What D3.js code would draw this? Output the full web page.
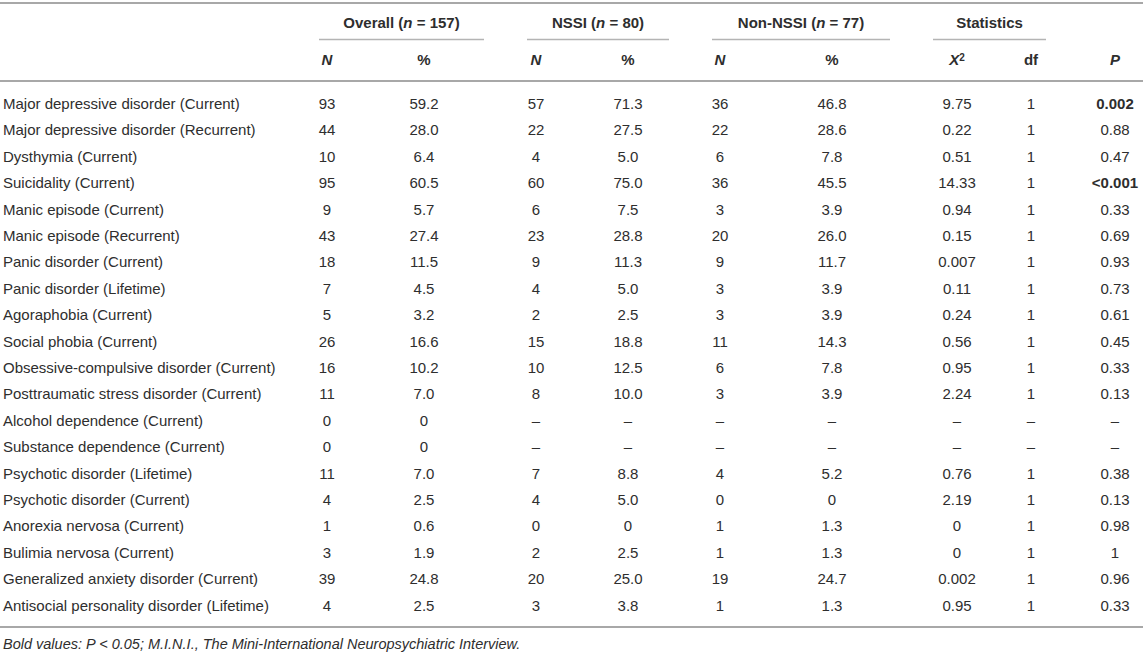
<!DOCTYPE html>
<html>
<head>
<meta charset="utf-8">
<script src="https://cdn.jsdelivr.net/npm/d3@7"></script>
<style>
body { margin: 0; background: #fff; }
text { font-family: "Liberation Sans", Arial, sans-serif; fill: #2e2e2e; }
</style>
</head>
<body>
<div id="table_chart"></div>
<script>
//Size
var w = 1143;
var h = 654;

//Row labels
var disorders = [
"Major depressive disorder (Current)",
"Major depressive disorder (Recurrent)",
"Dysthymia (Current)",
"Suicidality (Current)",
"Manic episode (Current)",
"Manic episode (Recurrent)",
"Panic disorder (Current)",
"Panic disorder (Lifetime)",
"Agoraphobia (Current)",
"Social phobia (Current)",
"Obsessive-compulsive disorder (Current)",
"Posttraumatic stress disorder (Current)",
"Alcohol dependence (Current)",
"Substance dependence (Current)",
"Psychotic disorder (Lifetime)",
"Psychotic disorder (Current)",
"Anorexia nervosa (Current)",
"Bulimia nervosa (Current)",
"Generalized anxiety disorder (Current)",
"Antisocial personality disorder (Lifetime)"
];

//Values, as printed
var overallN   = ["93","44","10","95","9","43","18","7","5","26","16","11","0","0","11","4","1","3","39","4"];
var overallPct = ["59.2","28.0","6.4","60.5","5.7","27.4","11.5","4.5","3.2","16.6","10.2","7.0","0","0","7.0","2.5","0.6","1.9","24.8","2.5"];
var nssiN      = ["57","22","4","60","6","23","9","4","2","15","10","8","–","–","7","4","0","2","20","3"];
var nssiPct    = ["71.3","27.5","5.0","75.0","7.5","28.8","11.3","5.0","2.5","18.8","12.5","10.0","–","–","8.8","5.0","0","2.5","25.0","3.8"];
var nonN       = ["36","22","6","36","3","20","9","3","3","11","6","3","–","–","4","0","1","1","19","1"];
var nonPct     = ["46.8","28.6","7.8","45.5","3.9","26.0","11.7","3.9","3.9","14.3","7.8","3.9","–","–","5.2","0","1.3","1.3","24.7","1.3"];
var chiSq      = ["9.75","0.22","0.51","14.33","0.94","0.15","0.007","0.11","0.24","0.56","0.95","2.24","–","–","0.76","2.19","0","0","0.002","0.95"];
var dfs        = ["1","1","1","1","1","1","1","1","1","1","1","1","–","–","1","1","1","1","1","1"];
var pValues    = ["0.002","0.88","0.47","<0.001","0.33","0.69","0.93","0.73","0.61","0.45","0.33","0.13","–","–","0.38","0.13","0.98","1","0.96","0.33"];

//Header labels
var groups = ["Overall", "NSSI", "Non-NSSI", "Statistics"];
var groupN = ["157", "80", "77", null];
var columns = ["oN","oP","nN","nP","xN","xP","chi","df","p"];
var footnote = "Bold values: P < 0.05; M.I.N.I., The Mini-International Neuropsychiatric Interview.";

//Column scale (centre of each column)
var xCol = d3.scaleOrdinal()
.domain(columns)
.range([327, 424, 536, 628, 720, 832, 957, 1031, 1115]);

//Group underline extents
var xGroup = d3.scaleOrdinal()
.domain(groups)
.range([[319, 484], [527, 669], [712, 890], [933, 1046]]);

//Row scale
var yRow = d3.scaleBand()
.domain(disorders)
.range([90.5, 618.5]);

var svg = d3.select("#table_chart")
.append("svg")
.attr("width", w)
.attr("height", h);

//Rules
var rules = [[3, 2], [81, 2], [627, 2]];
svg.append("g")
.selectAll("line")
.data(rules)
.enter()
.append("line")
.attr("x1", 0)
.attr("x2", w)
.attr("y1", function(d) { return d[0]; })
.attr("y2", function(d) { return d[0]; })
.attr("stroke", "#a8a8a8")
.attr("stroke-width", function(d) { return d[1]; });

//Group headers
var gh = svg.append("g").attr("class", "groups");
gh.selectAll("line")
.data(groups)
.enter()
.append("line")
.attr("x1", function(d) { return xGroup(d)[0]; })
.attr("x2", function(d) { return xGroup(d)[1]; })
.attr("y1", 39.5)
.attr("y2", 39.5)
.attr("stroke", "#b4b4b4")
.attr("stroke-width", 1.5);

var ght = gh.selectAll("text")
.data(groups)
.enter()
.append("text")
.attr("x", function(d) { var e = xGroup(d); return (e[0] + e[1]) / 2; })
.attr("y", 23)
.attr("dy", "0.35em")
.attr("text-anchor", "middle")
.style("font-size", "15px")
.style("font-weight", "bold");

ght.each(function(d, i) {
	var t = d3.select(this);
	if (groupN[i] === null) { t.text(d); return; }
	t.append("tspan").text(d + " (");
	t.append("tspan").style("font-style", "italic").text("n");
	t.append("tspan").text(" = " + groupN[i] + ")");
});

//Sub headers
var sub = [
{col: "oN", txt: "N", it: true}, {col: "oP", txt: "%", it: false},
{col: "nN", txt: "N", it: true}, {col: "nP", txt: "%", it: false},
{col: "xN", txt: "N", it: true}, {col: "xP", txt: "%", it: false},
{col: "chi", txt: "X", it: true, sup: "2"}, {col: "df", txt: "df", it: false},
{col: "p", txt: "P", it: true}
];
svg.append("g")
.selectAll("text")
.data(sub)
.enter()
.append("text")
.attr("x", function(d) { return xCol(d.col); })
.attr("y", 60)
.attr("dy", "0.35em")
.attr("text-anchor", "middle")
.style("font-size", "15px")
.style("font-weight", "bold")
.each(function(d) {
	var t = d3.select(this);
	t.append("tspan").style("font-style", d.it ? "italic" : "normal").text(d.txt);
	if (d.sup) {
		t.append("tspan").attr("dy", "-0.4em").style("font-size", "10px").text(d.sup);
	}
});

//Row labels
svg.append("g")
.selectAll("text")
.data(disorders)
.enter()
.append("text")
.attr("x", 3)
.attr("y", function(d) { return yRow(d) + yRow.bandwidth() / 2; })
.attr("dy", "0.35em")
.style("font-size", "15px")
.text(function(d) { return d; });

//Cells
var series = [overallN, overallPct, nssiN, nssiPct, nonN, nonPct, chiSq, dfs, pValues];
var cells = [];
series.forEach(function(arr, c) {
	arr.forEach(function(v, r) {
		cells.push({col: columns[c], row: disorders[r], v: v});
	});
});

svg.append("g")
.selectAll("text")
.data(cells)
.enter()
.append("text")
.attr("x", function(d) { return xCol(d.col); })
.attr("y", function(d) { return yRow(d.row) + yRow.bandwidth() / 2; })
.attr("dy", "0.35em")
.attr("text-anchor", "middle")
.style("font-size", "15px")
.style("font-weight", function(d) {
	//significant P values are bold
	if (d.col !== "p") return "normal";
	var p = parseFloat(d.v.replace("<", ""));
	return (!isNaN(p) && p < 0.05) ? "bold" : "normal";
})
.text(function(d) { return d.v; });

//Footnote
svg.append("text")
.attr("x", 3)
.attr("y", 644)
.attr("dy", "0.35em")
.style("font-size", "14.5px")
.style("font-style", "italic")
.text(footnote);
</script>
</body>
</html>
